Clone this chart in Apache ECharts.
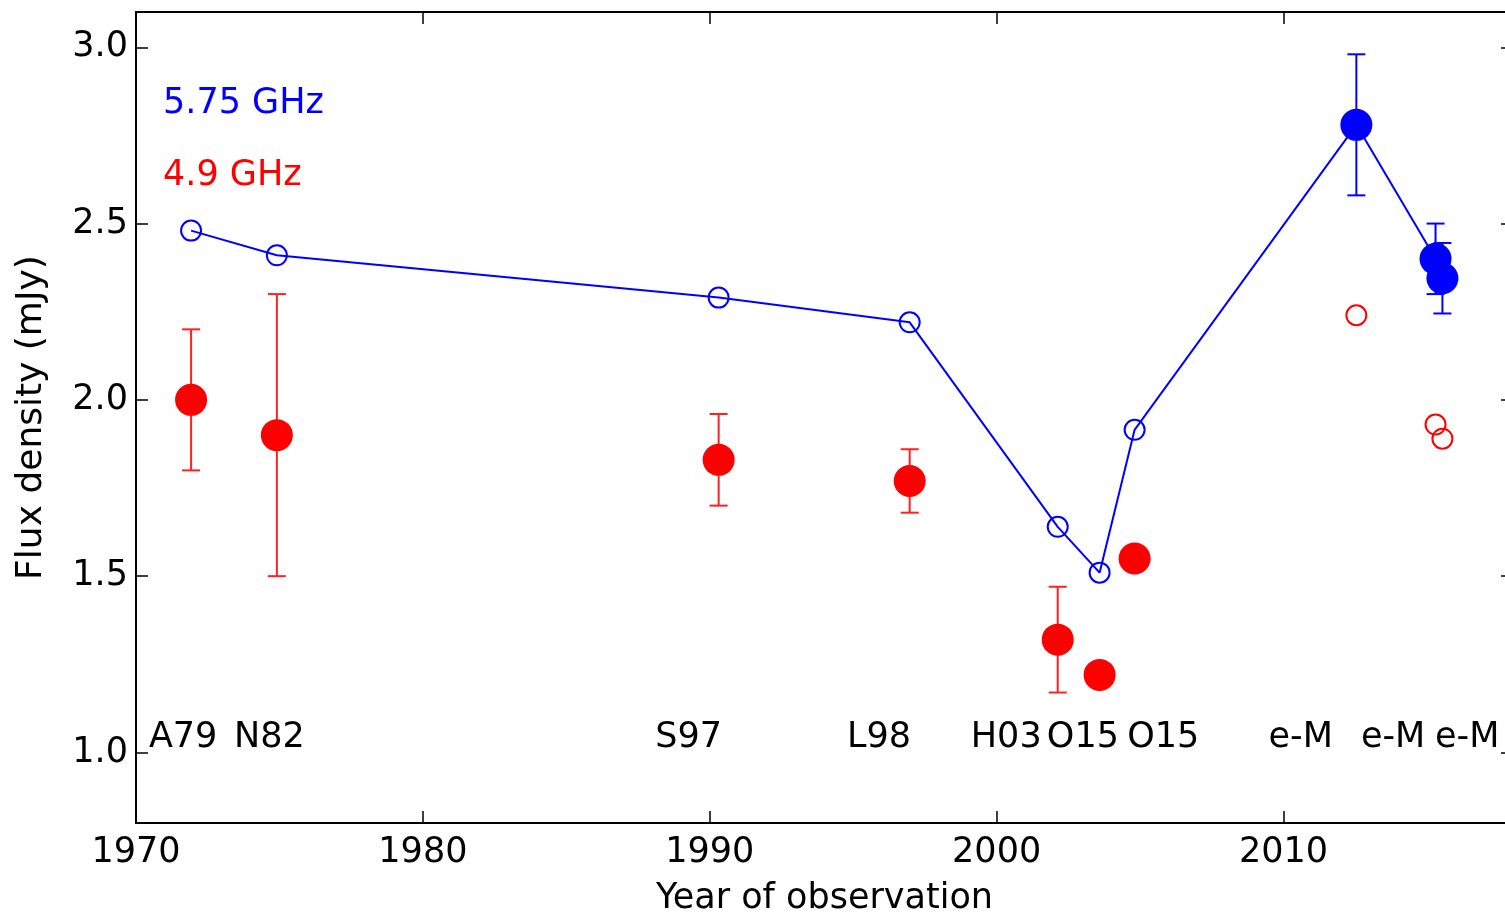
<!DOCTYPE html>
<html>
<head>
<meta charset="utf-8">
<script src="https://cdn.jsdelivr.net/npm/echarts@6/dist/echarts.min.js"></script>
<style>
html, body { margin: 0; padding: 0; background: #fff; }
#main { width: 1505px; height: 915px; }
</style>
</head>
<body>
<div id="main"></div>
<script>
// 5.75 GHz (blue), joined by a line
var blueYears = [1971.92, 1974.91, 1990.31, 1996.97, 2002.13, 2003.59, 2004.81, 2012.54, 2015.30, 2015.54];
var blueFlux  = [2.48, 2.41, 2.29, 2.22, 1.64, 1.51, 1.915, 2.78, 2.40, 2.345];
var blueErr   = [0, 0, 0, 0, 0, 0, 0, 0.20, 0.10, 0.10];
var blueFilled = [false, false, false, false, false, false, false, true, true, true];

// 4.9 GHz (red)
var redYears = [1971.92, 1974.91, 1990.31, 1996.97, 2002.13, 2003.59, 2004.81, 2012.54, 2015.30, 2015.54];
var redFlux  = [2.00, 1.90, 1.83, 1.77, 1.32, 1.22, 1.55, 2.24, 1.93, 1.89];
var redErr   = [0.20, 0.40, 0.13, 0.09, 0.15, 0, 0, 0, 0, 0];
var redFilled = [true, true, true, true, true, true, true, false, false, false];

// reference labels along the bottom
var refNames = ['A79', 'N82', 'S97', 'L98', 'H03', 'O15', 'O15', 'e-M', 'e-M', 'e-M'];
var refYears = [1970.45, 1973.42, 1988.10, 1994.78, 1999.10, 2001.75, 2004.55, 2009.48, 2012.70, 2015.28];
var refLevel = 1.04;

var xTicks = [1970, 1980, 1990, 2000, 2010];
var yTicks = [1.0, 1.5, 2.0, 2.5, 3.0];

var FONT = 'DejaVu Sans';

function pts(xs, ys, pick) {
  var out = [];
  for (var i = 0; i < xs.length; i++) {
    if (pick === undefined || pick(i)) out.push([xs[i], ys[i]]);
  }
  return out;
}

function errData(xs, ys, es) {
  var out = [];
  for (var i = 0; i < xs.length; i++) {
    if (es[i] > 0) out.push([xs[i], ys[i] - es[i], ys[i] + es[i]]);
  }
  return out;
}

function errSeries(data, color) {
  return {
    type: 'custom',
    data: data,
    z: 2,
    silent: true,
    renderItem: function (params, api) {
      var lo = api.coord([api.value(0), api.value(1)]);
      var hi = api.coord([api.value(0), api.value(2)]);
      var w = 9;
      var st = { stroke: color, lineWidth: 2 };
      return {
        type: 'group',
        children: [
          { type: 'line', shape: { x1: lo[0], y1: lo[1], x2: hi[0], y2: hi[1] }, style: st },
          { type: 'line', shape: { x1: lo[0] - w, y1: lo[1], x2: lo[0] + w, y2: lo[1] }, style: st },
          { type: 'line', shape: { x1: hi[0] - w, y1: hi[1], x2: hi[0] + w, y2: hi[1] }, style: st }
        ]
      };
    }
  };
}

function frameAxis(extra) {
  return Object.assign({
    type: 'value',
    axisLine: { show: true, onZero: false, lineStyle: { color: '#000', width: 2 } },
    splitLine: { show: false }
  }, extra);
}

var tickStyle = { show: true, inside: true, length: 12, lineStyle: { color: '#000', width: 1.5 } };

var myChart = echarts.init(document.getElementById('main'));

var options = {
  backgroundColor: '#fff',
  animation: false,
  textStyle: { fontFamily: FONT },
  // plot box runs a little past the right edge, like the cropped original
  grid: { left: 136, top: 12, width: 1377, height: 811, containLabel: false, outerBoundsMode: 'none' },
  xAxis: [
    frameAxis({
      min: 1970, max: 2018, position: 'bottom',
      name: 'Year of observation', nameLocation: 'middle', nameGap: 58,
      nameTextStyle: { fontFamily: FONT, fontSize: 35, color: '#000' },
      axisTick: Object.assign({ customValues: xTicks }, tickStyle),
      axisLabel: {
        customValues: xTicks, color: '#000', fontFamily: FONT, fontSize: 35, margin: 12,
        formatter: function (v) { return String(v); }
      }
    }),
    frameAxis({
      min: 1970, max: 2018, position: 'top',
      axisTick: Object.assign({ customValues: xTicks }, tickStyle),
      axisLabel: { show: false }
    })
  ],
  yAxis: [
    frameAxis({
      min: 0.8, max: 3.1, position: 'left',
      name: 'Flux density (mJy)', nameLocation: 'middle', nameGap: 86, nameRotate: 90,
      nameTextStyle: { fontFamily: FONT, fontSize: 36, color: '#000' },
      axisTick: Object.assign({ customValues: yTicks }, tickStyle),
      axisLabel: {
        customValues: yTicks, color: '#000', fontFamily: FONT, fontSize: 35, margin: 8,
        formatter: function (v) { return v.toFixed(1); }
      }
    }),
    frameAxis({
      min: 0.8, max: 3.1, position: 'right',
      axisTick: Object.assign({ customValues: yTicks }, tickStyle),
      axisLabel: { show: false }
    })
  ],
  graphic: [
    { type: 'text', left: 163, top: 86, style: { text: '5.75 GHz', fill: '#0000ff', font: '35px "DejaVu Sans"' } },
    { type: 'text', left: 163, top: 158, style: { text: '4.9 GHz', fill: '#ff0000', font: '35px "DejaVu Sans"' } }
  ],
  series: [
    {
      type: 'line',
      data: pts(blueYears, blueFlux),
      symbol: 'none',
      lineStyle: { color: '#0000ff', width: 2 },
      z: 1,
      silent: true
    },
    errSeries(errData(blueYears, blueFlux, blueErr), '#0000ff'),
    errSeries(errData(redYears, redFlux, redErr), '#ff2020'),
    {
      type: 'scatter',
      data: pts(blueYears, blueFlux, function (i) { return !blueFilled[i]; }),
      symbol: 'circle', symbolSize: 20,
      itemStyle: { color: 'rgba(0,0,0,0)', borderColor: '#0000ff', borderWidth: 2, opacity: 1 },
      z: 3
    },
    {
      type: 'scatter',
      data: pts(blueYears, blueFlux, function (i) { return blueFilled[i]; }),
      symbol: 'circle', symbolSize: 32,
      itemStyle: { color: '#0000ff', opacity: 1 },
      z: 3
    },
    {
      type: 'scatter',
      data: pts(redYears, redFlux, function (i) { return !redFilled[i]; }),
      symbol: 'circle', symbolSize: 20,
      itemStyle: { color: 'rgba(0,0,0,0)', borderColor: '#ff0000', borderWidth: 2, opacity: 1 },
      z: 3
    },
    {
      type: 'scatter',
      data: pts(redYears, redFlux, function (i) { return redFilled[i]; }),
      symbol: 'circle', symbolSize: 32,
      itemStyle: { color: '#ff0000', opacity: 1 },
      z: 3
    },
    {
      type: 'scatter',
      data: refYears.map(function (x, i) { return { value: [x, refLevel], name: refNames[i] }; }),
      symbolSize: 0,
      silent: true,
      itemStyle: { opacity: 1 },
      label: {
        show: true, position: 'right', distance: 0,
        formatter: '{b}', color: '#000', fontFamily: FONT, fontSize: 35
      },
      z: 4
    }
  ]
};

myChart.setOption(options);
</script>
</body>
</html>
